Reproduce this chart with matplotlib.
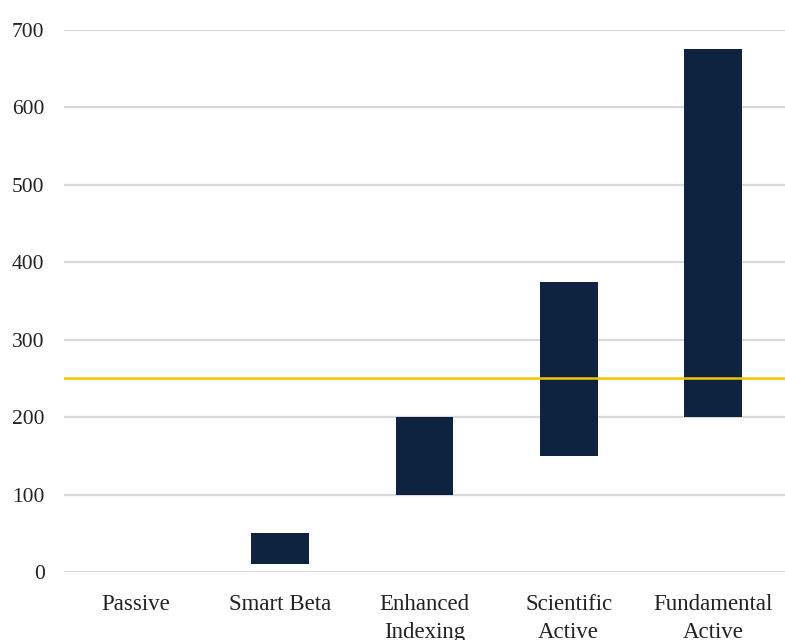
import matplotlib.pyplot as plt

categories = ['Passive', 'Smart Beta', 'Enhanced\nIndexing', 'Scientific\nActive', 'Fundamental\nActive']
low = [0, 10, 100, 150, 200]
high = [0, 50, 200, 375, 675]
threshold = 250

plt.rcParams['font.family'] = ['Liberation Serif', 'DejaVu Serif']

fig = plt.figure(figsize=(7.85, 6.4), dpi=100)
ax = fig.add_axes([0.0815, 0.10625, 0.9185, 0.847])

x = range(len(categories))
heights = [h - l for l, h in zip(low, high)]
ax.bar(x, heights, bottom=low, width=0.4, color='#0e2340', zorder=2)
ax.axhline(threshold, color='#f5c400', lw=1.8, zorder=3)

ax.set_ylim(0, 700)
ax.set_xlim(-0.5, len(categories) - 0.5)
ax.set_yticks(range(0, 701, 100))
ax.set_xticks(list(x))
ax.set_xticklabels(categories, linespacing=1.45)
ax.yaxis.grid(True, color='#d9d9d9', lw=1.6, zorder=0)
ax.tick_params(axis='y', length=0, pad=14, labelsize=15.5, labelcolor='#222222')
ax.tick_params(axis='x', length=0, pad=16, labelsize=16.5, labelcolor='#222222')
for s in ax.spines.values():
    s.set_visible(False)

fig.savefig('out.png', dpi=100)
